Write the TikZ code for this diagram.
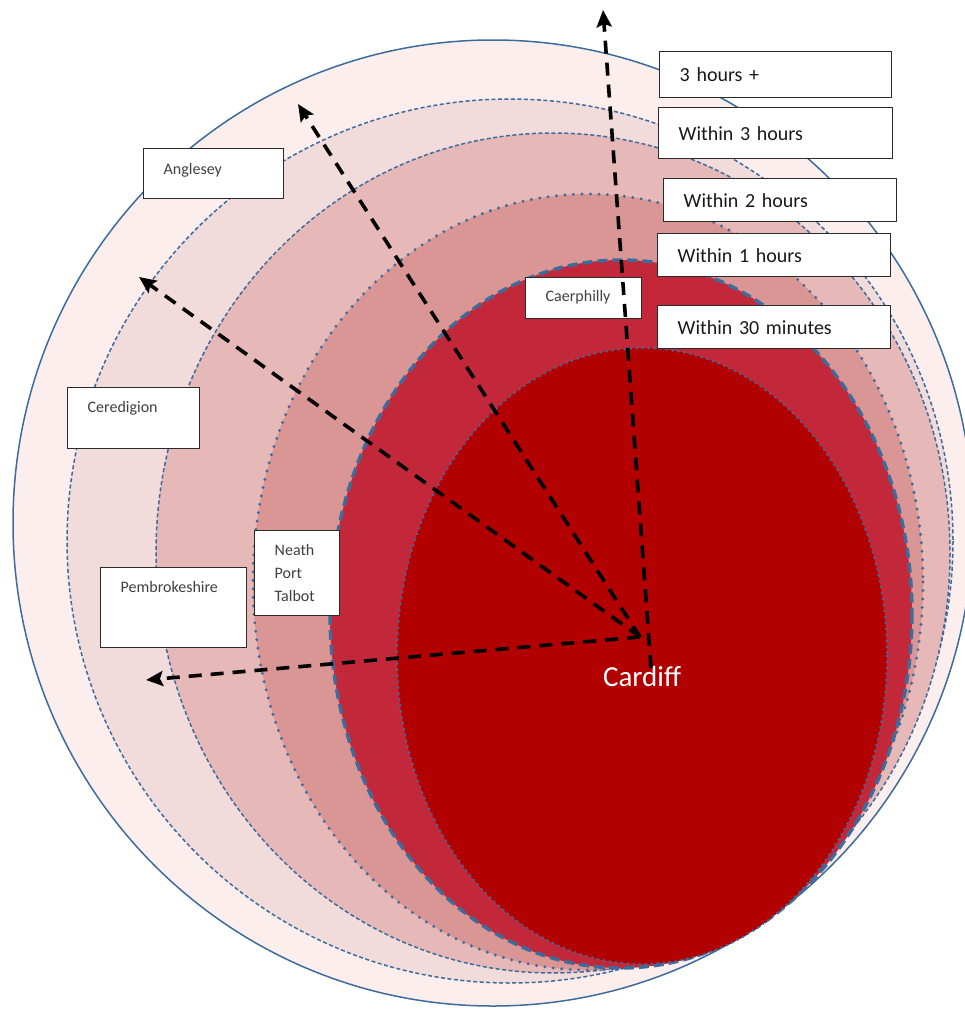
\documentclass[tikz,border=0pt]{standalone}
\usepackage{fontspec}
\setmainfont{Carlito}
\usetikzlibrary{arrows.meta}
\definecolor{zoneA}{HTML}{FDEEEE}
\definecolor{zoneB}{HTML}{F2DCDB}
\definecolor{zoneC}{HTML}{E6B9B8}
\definecolor{zoneD}{HTML}{D99694}
\definecolor{zoneE}{HTML}{C2283A}
\definecolor{zoneF}{HTML}{B20000}
\definecolor{ringblue}{HTML}{3D6C9C}
\definecolor{boxgray}{HTML}{2B2B2B}
\begin{document}
\begin{tikzpicture}[x=1pt, y=-1pt,
 zone line/.style={draw=ringblue, line width=1.5pt},
 time box/.style={draw=boxgray, fill=white, line width=1.4pt, anchor=north west, align=left, inner xsep=20pt, font=\fontsize{20}{24}\selectfont, text=black!90},
 place box/.style={draw=boxgray, fill=white, line width=1.4pt, anchor=north west, align=left, inner xsep=20pt, inner ysep=0pt, font=\fontsize{16}{23}\selectfont, text=black!75},
 route/.style={draw, line width=3.6pt, dash pattern=on 13pt off 9pt, -{Stealth[length=17pt,width=15pt,inset=3pt]}}]
\useasboundingbox (0,0) rectangle (965,1009);
\clip (0,0) rectangle (965,1009);
\begin{scope}
\filldraw[zone line, fill=zoneA] (493,523) ellipse [x radius=480, y radius=483];
\filldraw[zone line, fill=zoneB, dash pattern=on 4pt off 2.5pt] (510,541) ellipse [x radius=443, y radius=442];
\filldraw[zone line, fill=zoneC, dash pattern=on 4pt off 2.5pt] (553,553) ellipse [x radius=397, y radius=420];
\filldraw[zone line, fill=zoneD, line width=3.3pt, line cap=round, dash pattern=on 0pt off 8.5pt] (588,582) ellipse [x radius=335, y radius=388];
\filldraw[zone line, fill=zoneE, line width=3.4pt, dash pattern=on 10pt off 5pt] (621,614) ellipse [x radius=291, y radius=354];
\filldraw[zone line, fill=zoneF, line width=2.8pt, line cap=round, dash pattern=on 0pt off 6pt] (642,656) ellipse [x radius=245, y radius=308];
\end{scope}
\begin{scope}
\node[time box, minimum height=46, text width=192] (plus) at (659,51) {3 hours +};
\node[time box, minimum height=51, text width=194] (three) at (658,107) {Within 3 hours};
\node[time box, minimum height=43, text width=193] (two) at (663,178) {Within 2 hours};
\node[time box, minimum height=43, text width=193] (one) at (657,233) {Within 1 hours};
\node[time box, minimum height=43, text width=193] (half) at (657,305) {Within 30 minutes};
%\node[time box] () at (,) {};
\end{scope}
\begin{scope}
\node[place box, text width=100, text height=26, text depth=24] (angl) at (143,148) {Anglesey};
\node[place box, text width=92, text height=25, text depth=36] (cere) at (67,387) {Ceredigion};
\node[place box, text width=106, text height=25, text depth=55] (pemb) at (100,567) {Pembrokeshire};
\node[place box, text width=45, inner ysep=8pt, minimum height=85] (neath) at (254,530) {Neath\\Port\\Talbot};
\node[place box, text width=76, text height=24, text depth=17] (caer) at (525,277) {Caerphilly};
\node[text=white, font=\fontsize{29}{34}\selectfont] (card) at (642,677) {Cardiff};
\end{scope}
\coordinate (hub) at (640,637);
\coordinate (base) at (651,668);
\coordinate (north) at (603,10);
\coordinate (nwest) at (298,104);
\coordinate (west) at (139,277);
\coordinate (swest) at (146,680);
\begin{scope}
\draw (base) edge[route] (north);
\draw (hub) edge[route] (nwest);
\draw (hub) edge[route] (west);
\draw (hub) edge[route] (swest);
\end{scope}
\end{tikzpicture}
\end{document}
